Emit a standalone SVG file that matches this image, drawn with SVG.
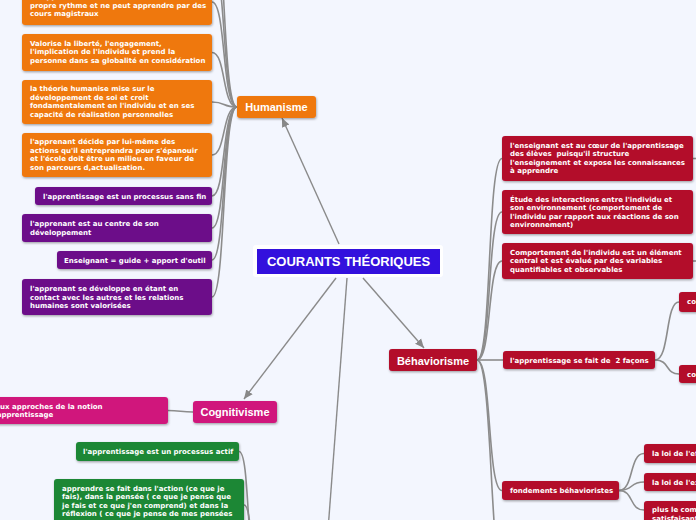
<svg xmlns="http://www.w3.org/2000/svg" width="696" height="520" viewBox="0 0 696 520">
<defs>
<filter id="sh" x="-10%" y="-20%" width="120%" height="150%">
<feDropShadow dx="0.6" dy="1.2" stdDeviation="0.8" flood-color="#000" flood-opacity="0.35"/>
</filter>
<marker id="ah" markerUnits="userSpaceOnUse" markerWidth="10" markerHeight="10" viewBox="0 0 10 10" refX="9" refY="5" orient="auto">
<path d="M0,1 L9,5 L0,9 Z" fill="#888"/>
</marker>
<style>
.t{font-family:"DejaVu Sans",Verdana,sans-serif;font-weight:bold;font-size:7px;fill:#fff}
.h{font-family:"Liberation Sans",Arial,sans-serif;font-weight:bold;font-size:11px;fill:#fff;text-anchor:middle}
.c{fill:none;stroke:#8c8c8c;stroke-width:1.6}
.a{fill:none;stroke:#8a8a8a;stroke-width:1.4}
.sh{filter:url(#sh)}
.or{fill:#ef780f}
.pu{fill:#6c0a89}
.rd{fill:#b30a2b}
.pk{fill:#d0177b}
.gr{fill:#1b8735}
</style>
</defs>
<rect width="696" height="520" fill="#f3f6fe"/>

<g id="connectors">
<path class="c" d="M212,-90 C226,-90 222,107 237,107"/>
<path class="c" d="M212,-40 C226,-40 222,107 237,107"/>
<path class="c" d="M212,2 C226,2 222,107 237,107"/>
<path class="c" d="M212,52.5 C226,52.5 222,107 237,107"/>
<path class="c" d="M212,102 C226,102 222,107 237,107"/>
<path class="c" d="M212,155 C226,155 222,107 237,107"/>
<path class="c" d="M212,196 C226,196 222,107 237,107"/>
<path class="c" d="M212,228 C226,228 222,107 237,107"/>
<path class="c" d="M212,260 C226,260 222,107 237,107"/>
<path class="c" d="M212,297 C226,297 222,107 237,107"/>

<path class="c" d="M477,360 C492,360 487,158.5 502,158.5"/>
<path class="c" d="M477,360 C492,360 487,212 502,212"/>
<path class="c" d="M477,360 C492,360 487,261 502,261"/>
<path class="c" d="M477,360 L503,360"/>
<path class="c" d="M477,360 C492,360 487,490.5 502,490.5"/>
<path class="c" d="M477,360 C492,360 490,560 502,580"/>
<path class="c" d="M693,158.5 L700,158.5"/>
<path class="c" d="M693,261 L700,261"/>

<path class="c" d="M655,360 C670,360 665,302 679,302"/>
<path class="c" d="M655,360 C670,360 665,374 679,374"/>
<path class="c" d="M619,490.5 C634,490.5 629,453.5 644,453.5"/>
<path class="c" d="M619,490.5 C634,490.5 629,482 644,482"/>
<path class="c" d="M619,490.5 C634,490.5 629,510 644,510"/>

<path class="c" d="M168,410.5 C180,410.5 181,412 193,412"/>
<path class="c" d="M239,451.5 C250,451.5 246,560 258,590"/>
<path class="c" d="M244,505 C252,505 250,560 258,590"/>

<path class="a" d="M339,244 L282,118" marker-end="url(#ah)"/>
<path class="a" d="M336,278 L244,399" marker-end="url(#ah)"/>
<path class="a" d="M363,278 L424,348" marker-end="url(#ah)"/>
<path class="a" d="M347,278 L328,530"/>
</g>

<g id="root">
<rect x="253" y="245" width="190" height="32" rx="3" fill="#fff"/>
<rect x="257" y="249" width="183" height="25" fill="#3311dd"/>
<text x="348.5" y="266" class="h" style="font-size:13px">COURANTS THÉORIQUES</text>
</g>

<g id="humanisme">
<rect class="or sh" x="237" y="96" width="79" height="22" rx="3"/>
<text class="h" x="276.5" y="111">Humanisme</text>
</g>

<g id="h1">
<rect class="or sh" x="22" y="-30" width="190" height="55" rx="3"/>
<text class="t" x="30"><tspan x="30" y="-1.5">à l'apprenant. Il suit son</tspan><tspan x="30" y="7.5">propre rythme et ne peut apprendre par des</tspan><tspan x="30" y="16">cours magistraux</tspan></text>
</g>
<g id="h2">
<rect class="or sh" x="22" y="34" width="190" height="37" rx="3"/>
<text class="t"><tspan x="30" y="45.5">Valorise la liberté, l'engagement,</tspan><tspan x="30" y="54">l'implication de l'individu et prend la</tspan><tspan x="30" y="62.6">personne dans sa globalité en considération</tspan></text>
</g>
<g id="h3">
<rect class="or sh" x="22" y="80" width="190" height="44" rx="3"/>
<text class="t"><tspan x="30" y="91">la théorie humanise mise sur le</tspan><tspan x="30" y="99.6">développement de soi et croit</tspan><tspan x="30" y="108.2">fondamentalement en l'individu et en ses</tspan><tspan x="30" y="116.8">capacité de réalisation personnelles</tspan></text>
</g>
<g id="h4">
<rect class="or sh" x="22" y="133" width="190" height="44" rx="3"/>
<text class="t"><tspan x="30" y="144">l'apprenant décide par lui-même des</tspan><tspan x="30" y="152.6">actions qu'il entreprendra pour s'épanouir</tspan><tspan x="30" y="161.2">et l'école doit être un milieu en faveur de</tspan><tspan x="30" y="169.8">son parcours d,actualisation.</tspan></text>
</g>
<g id="h5">
<rect class="pu sh" x="35" y="187" width="177" height="18" rx="3"/>
<text class="t" x="43" y="198.5">l'apprentissage est un processus sans fin</text>
</g>
<g id="h6">
<rect class="pu sh" x="22" y="214" width="190" height="28" rx="3"/>
<text class="t"><tspan x="30" y="226">l'apprenant est au centre de son</tspan><tspan x="30" y="234.6">développement</tspan></text>
</g>
<g id="h7">
<rect class="pu sh" x="57" y="251" width="155" height="18" rx="3"/>
<text class="t" x="64" y="262.5">Enseignant = guide + apport d'outil</text>
</g>
<g id="h8">
<rect class="pu sh" x="22" y="279" width="190" height="36" rx="3"/>
<text class="t"><tspan x="30" y="291">l'apprenant se développe en étant en</tspan><tspan x="30" y="299.6">contact avec les autres et les relations</tspan><tspan x="30" y="308.2">humaines sont valorisées</tspan></text>
</g>

<g id="cognitivisme">
<rect class="pk sh" x="193" y="401" width="84" height="22" rx="3"/>
<text class="h" x="235" y="416">Cognitivisme</text>
</g>
<g id="c1">
<rect class="pk sh" x="-20" y="397" width="188" height="27" rx="3"/>
<text class="t"><tspan x="-10.5" y="408.5">Deux approches de la notion</tspan><tspan x="-10.5" y="417.1">d'apprentissage</tspan></text>
</g>

<g id="g1">
<rect class="gr sh" x="76" y="442" width="163" height="19" rx="3"/>
<text class="t" x="83" y="454">l'apprentissage est un processus actif</text>
</g>
<g id="g2">
<rect class="gr sh" x="54" y="479" width="190" height="60" rx="3"/>
<text class="t"><tspan x="62" y="490.5">apprendre se fait dans l'action (ce que je</tspan><tspan x="62" y="499.1">fais), dans la pensée ( ce que je pense que</tspan><tspan x="62" y="507.7">je fais et ce que j'en comprend) et dans la</tspan><tspan x="62" y="516.3">réflexion ( ce que je pense de mes pensées</tspan></text>
</g>

<g id="behaviorisme">
<rect class="rd sh" x="389" y="349" width="88" height="22" rx="3"/>
<text class="h" x="433" y="364.5">Béhaviorisme</text>
</g>
<g id="b1">
<rect class="rd sh" x="502" y="136" width="191" height="45" rx="3"/>
<text class="t"><tspan x="510" y="147.5">l'enseignant est au cœur de l'apprentissage</tspan><tspan x="510" y="156.1" style="white-space:pre">des élèves  puisqu'il structure</tspan><tspan x="510" y="164.7">l'enseignement et expose les connaissances</tspan><tspan x="510" y="173.3">à apprendre</tspan></text>
</g>
<g id="b2">
<rect class="rd sh" x="502" y="190" width="191" height="44" rx="3"/>
<text class="t"><tspan x="510" y="201.5">Étude des interactions entre l'individu et</tspan><tspan x="510" y="210.1">son environnement (comportement de</tspan><tspan x="510" y="218.7">l'individu par rapport aux réactions de son</tspan><tspan x="510" y="227.3">environnement)</tspan></text>
</g>
<g id="b3">
<rect class="rd sh" x="502" y="243" width="191" height="36" rx="3"/>
<text class="t"><tspan x="510" y="254.5">Comportement de l'individu est un élément</tspan><tspan x="510" y="263.1">central et est évalué par des variables</tspan><tspan x="510" y="271.7">quantifiables et observables</tspan></text>
</g>
<g id="b4">
<rect class="rd sh" x="503" y="351" width="152" height="18" rx="3"/>
<text class="t" x="510" y="362.5" style="white-space:pre">l'apprentissage se fait de  2 façons</text>
</g>
<g id="b41">
<rect class="rd sh" x="679" y="292" width="40" height="20" rx="3"/>
<text class="t" x="687" y="304">conditionnement classique</text>
</g>
<g id="b42">
<rect class="rd sh" x="679" y="365" width="40" height="18" rx="3"/>
<text class="t" x="687" y="376.5">conditionnement opérant</text>
</g>
<g id="b5">
<rect class="rd sh" x="502" y="481" width="117" height="19" rx="3"/>
<text class="t" x="510" y="493">fondements béhavioristes</text>
</g>
<g id="b51">
<rect class="rd sh" x="644" y="444" width="80" height="19" rx="3"/>
<text class="t" x="652" y="456">la loi de l'effet</text>
</g>
<g id="b52">
<rect class="rd sh" x="644" y="473" width="80" height="18" rx="3"/>
<text class="t" x="652" y="485">la loi de l'exercice</text>
</g>
<g id="b53">
<rect class="rd sh" x="644" y="501" width="80" height="40" rx="3"/>
<text class="t"><tspan x="652" y="512">plus le comportement</tspan><tspan x="652" y="520.6">satisfaisant</tspan></text>
</g>
</svg>
